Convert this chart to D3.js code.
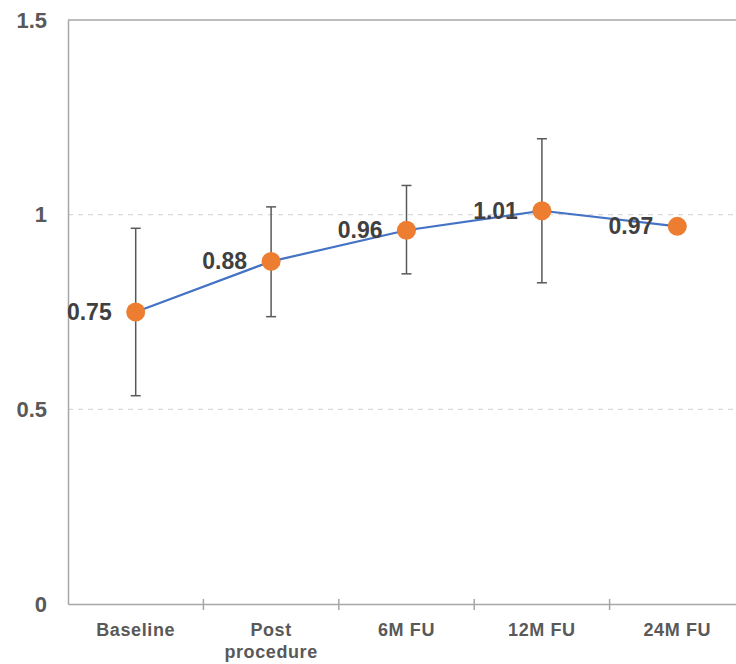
<!doctype html>
<html>
<head>
<meta charset="UTF-8" />
<script src="https://d3js.org/d3.v7.min.js"></script>
<style>
  body { margin: 0; background: #fff; }
  svg { display: block; font-family: Arial, "Liberation Sans", sans-serif; }
</style>
</head>
<body>
<svg id="chart" width="736" height="664"></svg>
<script>
const categories = ["Baseline", "Post\nprocedure", "6M FU", "12M FU", "24M FU"];
const means = [0.75, 0.88, 0.96, 1.01, 0.97];
const upper = [0.965, 1.02, 1.075, 1.195, null];
const lower = [0.535, 0.738, 0.848, 0.825, null];
const yTicks = [0, 0.5, 1, 1.5];
const gridTicks = [0.5, 1];

const svg = d3.select("#chart");
const margin = { left: 68, right: -9, top: 20, bottom: 60 };
const width = 736, height = 664;

const x = d3.scaleBand()
  .domain(categories)
  .range([margin.left, width - margin.right]);

const y = d3.scaleLinear()
  .domain([0, 1.5])
  .range([height - margin.bottom, margin.top]);

// dashed gridlines
svg.append("g")
  .selectAll("line")
  .data(gridTicks)
  .join("line")
  .attr("x1", margin.left)
  .attr("x2", width)
  .attr("y1", d => y(d))
  .attr("y2", d => y(d))
  .attr("stroke", "#d9d9d9")
  .attr("stroke-width", 1.2)
  .attr("stroke-dasharray", "5,5");

// top frame
svg.append("line")
  .attr("x1", margin.left).attr("x2", width)
  .attr("y1", y(1.5)).attr("y2", y(1.5))
  .attr("stroke", "#a6a6a6").attr("stroke-width", 1.5);

// y axis
const yAxis = svg.append("g")
  .attr("transform", `translate(${margin.left},0)`)
  .call(d3.axisLeft(y).tickValues(yTicks).tickSize(0).tickPadding(21)
    .tickFormat(d => d === 0 ? "0" : d3.format("")(d)));
yAxis.select(".domain").attr("stroke", "#a6a6a6").attr("stroke-width", 1.5);
yAxis.selectAll("text")
  .attr("fill", "#595959")
  .style("font-size", "22px")
  .style("font-weight", "bold");

// x axis
const xAxis = svg.append("g")
  .attr("transform", `translate(0,${y(0)})`)
  .call(d3.axisBottom(x).tickSize(0).tickFormat(""));
xAxis.select(".domain").attr("stroke", "#a6a6a6").attr("stroke-width", 1.5);

// category boundary ticks
svg.append("g")
  .selectAll("line")
  .data(categories.slice(1))
  .join("line")
  .attr("x1", d => x(d))
  .attr("x2", d => x(d))
  .attr("y1", y(0) - 5)
  .attr("y2", y(0) + 6)
  .attr("stroke", "#a6a6a6")
  .attr("stroke-width", 1.5);

// category labels
svg.append("g")
  .selectAll("text")
  .data(categories)
  .join("text")
  .attr("x", d => x(d) + x.bandwidth() / 2)
  .attr("y", y(0) + 32)
  .attr("text-anchor", "middle")
  .attr("fill", "#595959")
  .style("font-size", "18px")
  .style("font-weight", "bold")
  .style("letter-spacing", "0.6px")
  .selectAll("tspan")
  .data(d => d.split("\n"))
  .join("tspan")
  .attr("x", function () { return d3.select(this.parentNode).attr("x"); })
  .attr("dy", (d, i) => i === 0 ? 0 : 22)
  .text(d => d);

const cx = i => x(categories[i]) + x.bandwidth() / 2;
const idx = d3.range(categories.length);

// error bars
const eb = svg.append("g")
  .attr("stroke", "#595959")
  .attr("stroke-width", 1.5)
  .selectAll("g")
  .data(idx.filter(i => upper[i] != null))
  .join("g");
eb.append("line")
  .attr("x1", cx).attr("x2", cx)
  .attr("y1", i => y(upper[i])).attr("y2", i => y(lower[i]));
eb.append("line")
  .attr("x1", i => cx(i) - 5).attr("x2", i => cx(i) + 5)
  .attr("y1", i => y(upper[i])).attr("y2", i => y(upper[i]));
eb.append("line")
  .attr("x1", i => cx(i) - 5).attr("x2", i => cx(i) + 5)
  .attr("y1", i => y(lower[i])).attr("y2", i => y(lower[i]));

// line
svg.append("path")
  .datum(idx)
  .attr("fill", "none")
  .attr("stroke", "#4472c4")
  .attr("stroke-width", 2.2)
  .attr("d", d3.line().x(cx).y(i => y(means[i])));

// markers
svg.append("g")
  .selectAll("circle")
  .data(idx)
  .join("circle")
  .attr("cx", cx)
  .attr("cy", i => y(means[i]))
  .attr("r", 9.5)
  .attr("fill", "#ed7d31");

// value labels
svg.append("g")
  .selectAll("text")
  .data(idx)
  .join("text")
  .attr("x", i => cx(i) - 24)
  .attr("y", i => y(means[i]))
  .attr("dy", "0.35em")
  .attr("text-anchor", "end")
  .attr("fill", "#404040")
  .style("font-size", "23px")
  .style("font-weight", "bold")
  .text(i => means[i].toFixed(2));
</script>
</body>
</html>
